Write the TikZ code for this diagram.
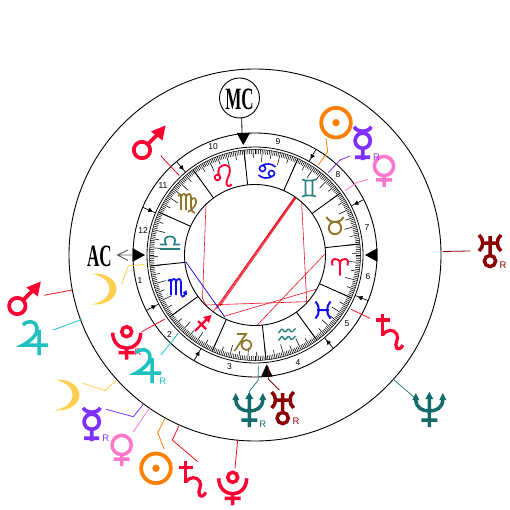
\documentclass[tikz,border=0pt]{standalone}
\usepackage{fontspec}
\usetikzlibrary{arrows.meta}
\setmainfont{Liberation Sans}
\newfontfamily\capsfont{Liberation Serif}
\definecolor{cRed}{HTML}{FF0033}
\definecolor{cLine}{HTML}{F01020}
\definecolor{cOrange}{HTML}{FF8000}
\definecolor{cViolet}{HTML}{7F2FFF}
\definecolor{cPink}{HTML}{FF77CC}
\definecolor{cMoon}{HTML}{FFD050}
\definecolor{cJup}{HTML}{20C0C0}
\definecolor{cNep}{HTML}{146B6B}
\definecolor{cUra}{HTML}{8B0000}
\definecolor{cEarth}{HTML}{8F7528}
\definecolor{cAir}{HTML}{2A8080}
\definecolor{cWater}{HTML}{1010EE}
\tikzset{
  rlabel/.style={font=\fontsize{9.5}{10}\selectfont,inner sep=0pt},
  hnum/.style={font=\fontsize{8.5}{10}\selectfont,inner sep=0pt,text=black},
  lead/.style={line width=.8pt,line join=round},
  aspect/.style={line width=.6pt,draw=cLine},
  pics/pmars/.style={code={
    \draw[cRed,line width=3.7pt] (0,0) circle[radius=8.2pt] (5.5,-5.5) -- (16,-16);
    \fill[cRed] (23.5,-24.5) -- (9,-18.5) -- (20.5,-9.5) -- cycle;}},
  pics/pjup/.style={code={
    \draw[cJup,line width=3.5pt] (-12,-15) .. controls (-8,-20) and (3,-20) .. (2,-9) .. controls (1,-4) and (-6,2) .. (-12,5) -- (13,5) (4,-10) -- (4,15);}},
  pics/psat/.style={code={
    \draw[cRed,line width=3.5pt] (-7,0) -- (7,0) (0,-6) -- (0,16);
    \draw[cRed,line width=3.2pt] (0,15) .. controls (4,9) and (11,9) .. (14,14) .. controls (17,19) and (11,24) .. (14,28) .. controls (16,30) and (19,28) .. (20,25);}},
  pics/pura/.style={code={
    \draw[cUra,line width=3.5pt] (-11,-8) .. controls (-6,-4) and (-6,4) .. (-11,8) (11,-8) .. controls (6,-4) and (6,4) .. (11,8) (-7,0) -- (7,0) (0,-7) -- (0,12.5) (0,18) circle[radius=5.6pt];}},
  pics/pnep/.style={code={
    \draw[cNep,line width=3.5pt] (-13.5,-11) .. controls (-13.5,-2) and (-7,1) .. (0,1) .. controls (7,1) and (13.5,-2) .. (13.5,-11) (0,-12) -- (0,17) (-8,10) -- (8,10);
    \fill[cNep] (0,-18) -- (-4,-11) -- (4,-11) -- cycle (-13.5,-17) -- (-17,-10) -- (-10,-10) -- cycle (13.5,-17) -- (10,-10) -- (17,-10) -- cycle;}},
  pics/pplu/.style={code={
    \draw[cRed,line width=3.5pt] (0,0) circle[radius=5pt] (-14,1) .. controls (-14,11) and (-7,16.5) .. (0,16.5) .. controls (7,16.5) and (14,11) .. (14,1) (0,16) -- (0,28) (-8,21) -- (8,21);}},
  pics/psun/.style={code={
    \draw[cOrange,line width=3.8pt] (0,0) circle[radius=14.8pt];
    \fill[cOrange] (0,0) circle[radius=3.7pt];}},
  pics/pmer/.style={code={
    \draw[cViolet,line width=3.7pt] (0,0) circle[radius=7.6pt] (-8.5,-14) .. controls (-6,-8) and (6,-8) .. (8.5,-14) (0,7) -- (0,19.5) (-7.5,16.5) -- (7.5,16.5);}},
  pics/pven/.style={code={
    \draw[cPink,line width=3.5pt] (0,0) circle[radius=9.6pt] (0,9) -- (0,21) (-8,14) -- (8,14);}},
  pics/pmoon/.style={code={
    \fill[cMoon] (0,-15.5) .. controls (14,-16.5) and (24.5,-9) .. (24.5,0) .. controls (24.5,9) and (14,16.5) .. (0,15.5) .. controls (10,13) and (17.5,8) .. (17.5,0) .. controls (17.5,-8) and (10,-13) .. (0,-15.5) -- cycle;}},
  pics/zari/.style={code={
    \draw[cRed,line width=1.9pt] (0,8.5) -- (0,-3) .. controls (0,-7) and (-3,-8.5) .. (-5.5,-8) .. controls (-8,-7.5) and (-9,-4) .. (-7.5,-1.5) (0,-3) .. controls (0,-7) and (3,-8.5) .. (5.5,-8) .. controls (8,-7.5) and (9,-4) .. (7.5,-1.5);}},
  pics/ztau/.style={code={
    \draw[cEarth,line width=1.9pt] (0,3) circle[radius=6.2pt] (-8.5,-8) .. controls (-6,-3.5) and (-3,-3) .. (0,-3) .. controls (3,-3) and (6,-3.5) .. (8.5,-8);}},
  pics/zgem/.style={code={
    \draw[cAir,line width=1.6pt] (-7,-8.5) .. controls (-3,-7) and (3,-7) .. (7,-8.5) (-7,8.5) .. controls (-3,7) and (3,7) .. (7,8.5) (-3.5,-7.5) -- (-3.5,7.5) (3.5,-7.5) -- (3.5,7.5);}},
  pics/zcan/.style={code={
    \draw[cWater,line width=1.6pt] (-4.5,-2.5) circle[radius=3pt] (4.5,2.5) circle[radius=3pt] (-5,-5.5) .. controls (-1,-8) and (5,-7.5) .. (8.5,-4) (5,5.5) .. controls (1,8) and (-5,7.5) .. (-8.5,4);}},
  pics/zleo/.style={code={
    \draw[cRed,line width=1.8pt] (-5.5,1.5) circle[radius=2.8pt] (-3.5,-.5) .. controls (-7,-7) and (-2,-11) .. (2,-11) .. controls (7,-11) and (8,-6) .. (6,-1) .. controls (4,4) and (2,8) .. (5,10) .. controls (7,11) and (8,9) .. (8.5,8);}},
  pics/zvir/.style={code={
    \draw[cEarth,line width=1.7pt] (-9,-7) .. controls (-8,-9) and (-6,-9) .. (-6,-6) -- (-6,7) (-6,-6) .. controls (-5,-10) and (-1,-10) .. (-1,-6) -- (-1,7) (-1,-6) .. controls (0,-10) and (4,-10) .. (4,-6) -- (4,5) .. controls (4,8) and (6,9.5) .. (8,10) (4,-3) .. controls (7,-7) and (10,-4) .. (9,0) .. controls (8,4) and (4,7) .. (1,9);}},
  pics/zlib/.style={code={
    \draw[cAir,line width=1.7pt] (-10,6) -- (10,6) (-10,1.5) -- (-4,1.5) .. controls (-7,-4) and (-4,-6.5) .. (0,-6.5) .. controls (4,-6.5) and (7,-4) .. (4,1.5) -- (10,1.5);}},
  pics/zsco/.style={code={
    \draw[cWater,line width=1.7pt] (-9,-7) .. controls (-8,-9) and (-6,-9) .. (-6,-6) -- (-6,7) (-6,-6) .. controls (-5,-10) and (-1,-10) .. (-1,-6) -- (-1,7) (-1,-6) .. controls (0,-10) and (4,-10) .. (4,-6) -- (4,5) .. controls (4,9.5) and (7,10) .. (8.5,5);
    \fill[cWater] (9.5,2) -- (5.5,5) -- (10,7) -- cycle;}},
  pics/zsag/.style={code={
    \draw[cRed,line width=2.2pt] (-8,8) -- (6,-6) (-5,-2) -- (3,6);
    \fill[cRed] (8.5,-8) -- (0,-6) -- (6,0) -- cycle;}},
  pics/zcap/.style={code={
    \draw[cEarth,line width=1.7pt] (-6,-8) -- (3,-8) -- (-8.5,9) (3.5,3) circle[radius=5pt];}},
  pics/zaqu/.style={code={
    \draw[cAir,line width=1.4pt,rounded corners=1pt] (-8.5,-2) -- (-5,-6.5) -- (-2,-2.5) -- (1.5,-6.5) -- (4.5,-2.5) -- (8.5,-6.5) (-8.5,5.5) -- (-5,1) -- (-2,5) -- (1.5,1) -- (4.5,5) -- (8.5,1);}},
  pics/zpis/.style={code={
    \draw[cWater,line width=2pt] (-7.5,-8.5) .. controls (-3,-4) and (-3,4) .. (-7.5,8.5) (7.5,-8.5) .. controls (3,-4) and (3,4) .. (7.5,8.5) (-6,0) -- (6,0);}},
}
\begin{document}
\begin{tikzpicture}[x=1pt,y=-1pt]
\useasboundingbox (0,0) rectangle (510,510);
\fill[white] (0,0) rectangle (510,510);
% aspect lines
\draw[aspect] (206,203.3) -- (202.5,298.5) -- (206,305) -- (306.7,301.7) -- (301.7,203.3);
\draw[aspect] (294.5,197) -- (213.3,311.7) (295.2,197.6) -- (216.7,308.8) (296,198.3) -- (220,306.2);
\draw[aspect] (325,254) -- (257.3,325);
\draw[aspect] (316,289.3) -- (225,316);
\draw[line width=.7pt,draw=blue!85!black] (185.7,261.7) -- (225,317.3);
\begin{scope}[shift={(255,255)}]
  \draw[line width=.9pt] (0,0) circle[radius=186pt];
  \draw[line width=.9pt] (0,0) circle[radius=122pt];
  \draw[line width=.8pt] (0,0) circle[radius=108pt];
  \draw[line width=.5pt] (0,0) circle[radius=105.5pt];
  \draw[line width=.9pt] (0,0) circle[radius=70.5pt];
  % degree ticks
  \foreach \d in {0,...,359}{
    \pgfmathsetmacro\ang{-6-\d}
    \pgfmathtruncatemacro\mten{mod(\d,10)}
    \pgfmathtruncatemacro\mfiv{mod(\d,5)}
    \ifnum\mten=0 \def\rin{93}\else\ifnum\mfiv=0 \def\rin{97}\else\def\rin{101}\fi\fi
    \draw[line width=.55pt] (\ang:105.5) -- (\ang:\rin);
  }
  % sign boundaries
  \foreach \b in {6,36,...,336}{
    \draw[line width=.9pt] (-\b:70.5) -- (-\b:105.5);
  }
  % house cusp arrows
  \foreach \b in {27,60,130,157,207,240,310,338}{
    \draw[line width=.7pt,-{Latex[length=5pt,width=5pt]}] (-\b:122) -- (-\b:110.5);
    \draw[line width=.7pt] (-\b:111) -- (-\b:108);
  }
\end{scope}
% angle triangles
\fill (236.7,133) -- (250,133) -- (243.3,145) -- cycle;
\fill (132.7,248.3) -- (132.7,261.7) -- (145,255) -- cycle;
\fill (377.3,248.3) -- (377.3,261.7) -- (365,255) -- cycle;
\fill (261,376.7) -- (272.7,376.7) -- (266.7,364.3) -- cycle;
% house numbers
\node[hnum] (h1) at (140,281) {1};
\node[hnum] (h2) at (169.5,335) {2};
\node[hnum] (h3) at (229.5,367) {3};
\node[hnum] (h4) at (298,362.5) {4};
\node[hnum] (h5) at (347,323.5) {5};
\node[hnum] (h6) at (368,277) {6};
\node[hnum] (h7) at (367,228) {7};
\node[hnum] (h8) at (338,175) {8};
\node[hnum] (h9) at (278,142) {9};
\node[hnum] (h10) at (213,147) {10};
\node[hnum] (h11) at (163,186) {11};
\node[hnum] (h12) at (143,231) {12};
% zodiac
\pic at (340,267) {zari};
\pic at (335,225) {ztau};
\pic at (309,188) {zgem};
\pic at (267,171) {zcan};
\pic at (223,176) {zleo};
\pic at (187,203) {zvir};
\pic at (170,243) {zlib};
\pic at (177,288) {zsco};
\pic at (203,323) {zsag};
\pic at (243,342) {zcap};
\pic at (287,335) {zaqu};
\pic at (323,310) {zpis};
% MC and AC
\node[draw,circle,line width=.9pt,minimum size=40pt,inner sep=0pt] (mc) at (239.5,98) {};
\node[xscale=.55,inner sep=0pt,font=\capsfont\bfseries\fontsize{31}{31}\selectfont] (mct) at (239.5,99) {MC};
\coordinate (mcend) at (242,133);
\draw[line width=.8pt] (241.7,118) -- (mcend);
\node[xscale=.55,inner sep=0pt,font=\capsfont\bfseries\fontsize{31}{31}\selectfont] (ac) at (99.5,256) {AC};
\coordinate (acs) at (133,255);
\coordinate (ace) at (117.5,255);
\draw[line width=.9pt,black!65] (acs) -- (ace) (128,250) -- (ace) -- (128,260.5);
% leaders, inner ring
\draw[lead,cLine] (160.7,155.7) -- (179.3,175.7);
\draw[lead,cOrange] (326,138.3) -- (327.7,151.7) -- (318.3,165);
\draw[lead,cViolet] (350,156) -- (340,160) -- (328.3,172.7);
\draw[lead,cPink] (368.3,179.3) -- (356.7,182.7) -- (345,190.7);
\draw[lead,cLine] (351,309.3) -- (370,318.3);
\draw[lead,cMoon] (145,264.3) -- (128.3,266) -- (121.7,284.3);
\draw[lead,cLine] (165,319) -- (141.7,331.7);
\draw[lead,cJup] (178.3,333.3) -- (161,355);
\draw[lead,cAir] (258.3,365.7) -- (258.3,380) -- (249,391.7);
\draw[lead,cUra] (268.3,366.7) -- (268.3,379) -- (279.3,390);
% leaders, outer ring
\draw[lead,cLine] (72.3,290) -- (44,295.3);
\draw[lead,cJup] (81.7,319.3) -- (53.3,330);
\draw[lead,cMoon] (116.7,380) -- (105,390.7) -- (82.7,383.3);
\draw[lead,cViolet] (143.3,404.3) -- (133.3,416.7) -- (106,409.3);
\draw[lead,cPink] (149.3,408.3) -- (133.3,431.7);
\draw[lead,cOrange] (165,418.3) -- (157.7,432.7) -- (164.3,449.3);
\draw[lead,cLine] (179,425.7) -- (172.3,440) -- (197.7,461.7);
\draw[lead,cLine] (237.7,440) -- (235,468.3);
\draw[lead,cUra] (443,251.5) -- (470,251);
\draw[lead,cAir] (393,379) -- (415,398);
% planets
\pic at (142,150) {pmars};
\pic at (336,122.7) {psun};
\pic at (362.7,140.7) {pmer};
\pic at (384,166) {pven};
\node[rlabel,text=cViolet] (r1) at (376.5,157.5) {R};
\pic at (382.7,320) {psat};
\pic at (490,243) {pura};
\node[rlabel,text=cUra] (r2) at (503,265) {R};
\pic at (429.3,410) {pnep};
\pic at (282.7,400) {pura};
\node[rlabel,text=cUra] (r3) at (296,421.7) {R};
\pic at (249.3,410) {pnep};
\node[rlabel,text=cNep] (r4) at (262.7,424) {R};
\pic at (92,289) {pmoon};
\pic at (17.3,306) {pmars};
\pic at (35,340) {pjup};
\pic at (126.7,331.7) {pplu};
\node[rlabel,text=cRed] (r5) at (138,352) {R};
\pic at (148,368) {pjup};
\node[rlabel,text=cJup] (r6) at (162.7,381.7) {R};
\pic at (55,395) {pmoon};
\pic at (91.7,421.7) {pmer};
\node[rlabel,text=cViolet] (r7) at (105.7,438) {R};
\pic at (121.7,445) {pven};
\pic at (156,468.3) {psun};
\pic at (185.7,467.3) {psat};
\pic at (232.7,477.3) {pplu};
\end{tikzpicture}
\end{document}
